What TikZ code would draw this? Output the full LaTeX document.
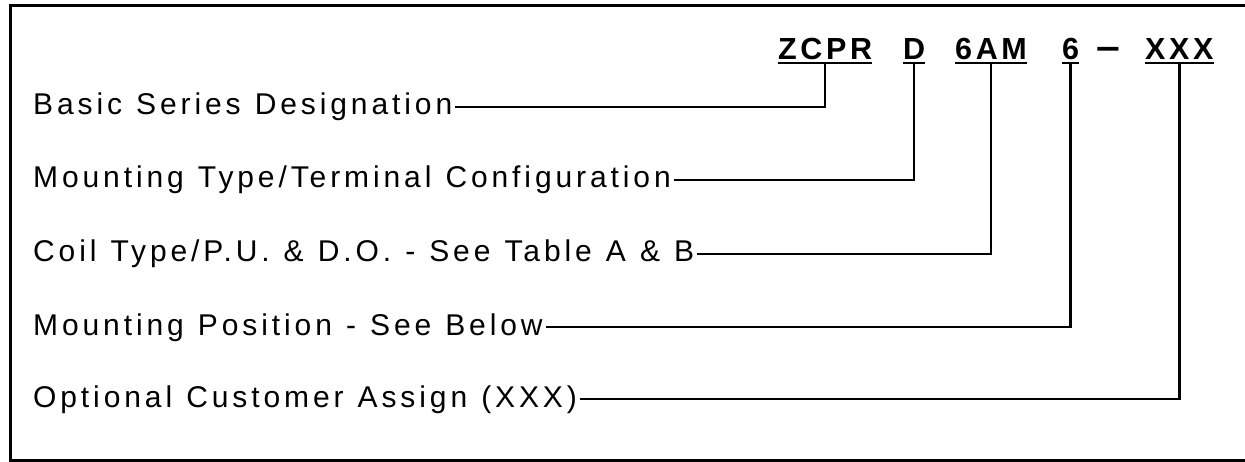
\documentclass[tikz,border=0pt]{standalone}
\usepackage{fontspec}
\setmainfont{Liberation Sans}
\newfontfamily\lblfont[LetterSpace=13, WordSpace=1.15]{Liberation Sans}
\newfontfamily\codefont[LetterSpace=12]{Liberation Sans Bold}
\usepackage{tikz}
\usetikzlibrary{positioning}

\tikzset{
	lbl/.style={anchor=base west, inner xsep=3pt, inner ysep=0pt, text height=21pt, text depth=5pt, font=\lblfont\fontsize{30}{30}\selectfont},
	code/.style={anchor=base west, inner sep=0pt, text height=22pt, text depth=3pt, font=\codefont\fontsize{30.5}{30.5}\selectfont},
	lead/.style={line width=2.5pt},
}

\begin{document}
\begin{tikzpicture}[x=1pt, y=-1pt]
	\useasboundingbox (0,0) rectangle (1245,462);
	% frame, open on the right
	\draw[line width=3pt] (1250,6) -- (10,6) -- (10,460) -- (1250,460);

	\node[code] (zcpr) at (778,60) {ZCPR};
	\node[code] (mtype) at (903,60) {D};
	\node[code] (coil) at (955,60) {6AM};
	\node[code] (mpos) at (1062,60) {6};
	\node[code] (dash) at (1096,60) {\scalebox{1.4}[1.25]{\textendash}};
	\node[code] (cust) at (1145,60) {XXX};
	\foreach \c in {zcpr, mtype, coil, mpos, cust}
		\draw[line width=2pt] (\c.south west) -- (\c.south east);

	\node[lbl] (basic) at (30,115) {Basic Series Designation};
	\node[lbl] (mount) at (30,188) {Mounting Type/Terminal Configuration};
	\node[lbl] (coiltype) at (30,262) {Coil Type/P.U. \& D.O. - See Table A \& B};
	\node[lbl] (position) at (30,335) {Mounting Position - See Below};
	\node[lbl] (option) at (30,407) {Optional Customer Assign (XXX)};

	\draw[lead] (zcpr.south) |- (basic.east);
	\draw[lead] (mtype.south) |- (mount.east);
	\draw[lead] (coil.south) |- (coiltype.east);
	\draw[lead] (mpos.south) |- (position.east);
	\draw[lead] (cust.south) |- (option.east);
\end{tikzpicture}
\end{document}
